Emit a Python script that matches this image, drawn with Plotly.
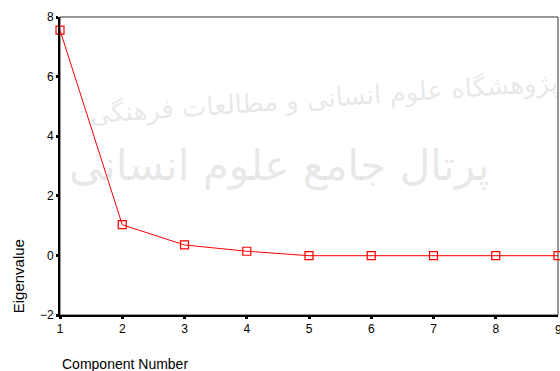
import plotly.graph_objects as go

components = [1, 2, 3, 4, 5, 6, 7, 8, 9]
eigenvalues = [7.56, 1.03, 0.35, 0.14, -0.01, -0.01, -0.01, -0.01, -0.01]
x_ticks = [1, 2, 3, 4, 5, 6, 7, 8, 9]
y_ticks = [-2, 0, 2, 4, 6, 8]

fig = go.Figure()
fig.add_trace(go.Scatter(
    x=components, y=eigenvalues, mode="lines+markers",
    line=dict(color="#ff0000", width=1),
    marker=dict(symbol="square-open", size=8, color="#ff0000", line=dict(width=1.2)),
    cliponaxis=False, showlegend=False,
))

font = dict(family="Liberation Sans, Arial, sans-serif", color="#000000")

fig.update_layout(
    width=560, height=371,
    margin=dict(l=60, r=2, t=17, b=56),
    paper_bgcolor="white", plot_bgcolor="white",
    font=dict(size=12, **font),
    xaxis=dict(range=[1, 9], tickvals=x_ticks[:-1], showgrid=False, zeroline=False,
               showline=True, linecolor="black", linewidth=2,
               ticks="outside", ticklen=2, tickwidth=3, tickcolor="black",
               tickfont=dict(size=12)),
    yaxis=dict(range=[-2, 8], tickvals=y_ticks, showgrid=False, zeroline=False,
               showline=True, linecolor="black", linewidth=2,
               ticks="outside", ticklen=2, tickwidth=3, tickcolor="black",
               tickfont=dict(size=12)),
    shapes=[dict(type="rect", xref="paper", yref="paper", x0=0, x1=1, y0=0, y1=1,
                 line=dict(color="#333333", width=1), layer="below")],
    annotations=[
        dict(text=str(x_ticks[-1]), xref="x", yref="paper", x=x_ticks[-1], y=0,
             yshift=-6, xanchor="center", yanchor="top", showarrow=False,
             font=dict(size=12, **font)),
        dict(text="Component Number", xref="paper", yref="paper", x=0, y=0,
             xanchor="left", yanchor="top", yshift=-39, showarrow=False,
             font=dict(size=14, **font)),
        dict(text="Eigenvalue", xref="paper", yref="paper", x=0, y=0.13,
             xshift=-42, xanchor="center", yanchor="middle", textangle=-90,
             showarrow=False, font=dict(size=15, **font)),
        dict(text="پژوهشگاه علوم انسانی و مطالعات فرهنگی", xref="paper", yref="paper",
             x=0.53, y=0.84, showarrow=False, textangle=-4,
             font=dict(size=26, color="rgba(150,150,150,0.22)", family="DejaVu Sans")),
        dict(text="پرتال جامع علوم انسانی", xref="paper", yref="paper",
             x=0.44, y=0.5, showarrow=False,
             font=dict(size=42, color="rgba(150,150,150,0.22)", family="DejaVu Sans")),
    ],
)

fig.write_html("out.html")
